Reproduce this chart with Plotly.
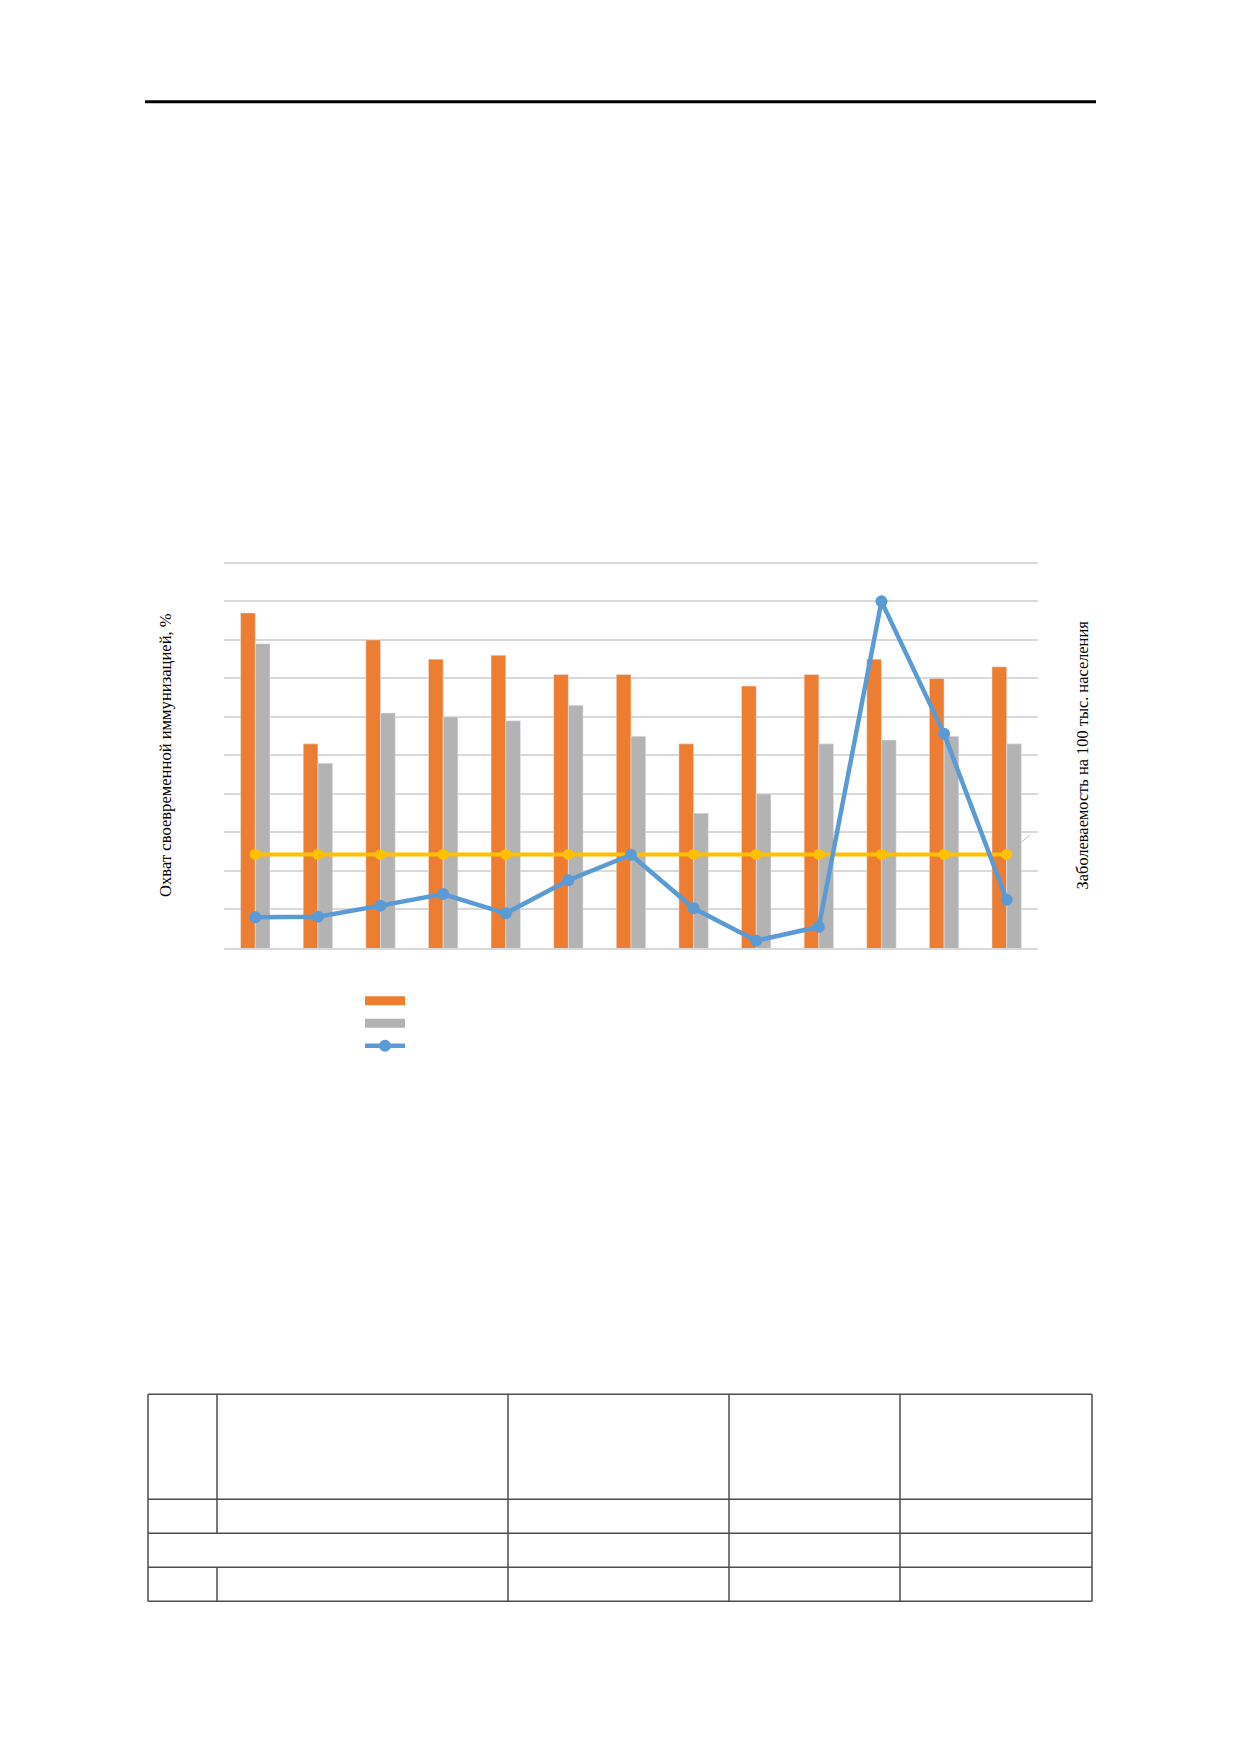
import plotly.graph_objects as go

# 13 groups; the reference has no readable tick labels, so the categories are just numbered
categories = ['1', '2', '3', '4', '5', '6', '7', '8', '9', '10', '11', '12', '13']

# coverage, % (left axis)
coverage_a = [98.7, 95.3, 98.0, 97.5, 97.6, 97.1, 97.1, 95.3, 96.8, 97.1, 97.5, 97.0, 97.3]
coverage_b = [97.9, 94.8, 96.1, 96.0, 95.9, 96.3, 95.5, 93.5, 94.0, 95.3, 95.4, 95.5, 95.3]

# incidence per 100k (right axis)
incidence = [0.80, 0.81, 1.10, 1.40, 0.90, 1.76, 2.42, 1.03, 0.19, 0.55, 9.00, 5.56, 1.25]
threshold = [2.43] * 13

ORANGE = '#ED7D31'
GRAY = '#B3B3B3'
BLUE = '#5B9BD5'
YELLOW = '#FFC000'
GRID = '#D9D9D9'

# the page body adds an 8px margin, so the figure is 8px smaller than the window
W, H = 1232, 1746
# plot area in px; a little headroom above the top gridline so plotly keeps it
PL, PR, PT, PB = 216, 1030, 551.15, 940


def px(x):
    return (x - PL) / (PR - PL)


def py(y):
    return (PB - y) / (PB - PT)


fig = go.Figure()
fig.add_trace(go.Bar(x=categories, y=coverage_a, marker_color=ORANGE, showlegend=False, name='a'))
fig.add_trace(go.Bar(x=categories, y=coverage_b, marker_color=GRAY, showlegend=False, name='b'))

# legend-only entries drawn as flat bars like in the reference
fig.add_trace(go.Scatter(x=[None], y=[None], mode='lines', line=dict(color=ORANGE, width=9), name=''))
fig.add_trace(go.Scatter(x=[None], y=[None], mode='lines', line=dict(color=GRAY, width=9), name=''))

fig.add_trace(go.Scatter(x=categories, y=threshold, yaxis='y2', mode='lines+markers',
                         line=dict(color=YELLOW, width=4), marker=dict(size=11, color=YELLOW),
                         showlegend=False))
fig.add_trace(go.Scatter(x=categories, y=incidence, yaxis='y2', mode='lines+markers',
                         line=dict(color=BLUE, width=4.5), marker=dict(size=12, color=BLUE),
                         name=''))

fig.update_layout(
    width=W, height=H,
    margin=dict(l=PL, r=W - PR, t=PT, b=H - PB),
    paper_bgcolor='white', plot_bgcolor='white',
    barmode='group', bargap=0.53, bargroupgap=0,
    font=dict(family='Liberation Serif', color='black'),
    xaxis=dict(range=[-0.5, 12.5], showticklabels=False, ticks='', showgrid=False, showline=True,
               linecolor=GRID, linewidth=1.5),
    yaxis=dict(range=[90, 100.1], tick0=90, dtick=1, showticklabels=False, ticks='',
               gridcolor=GRID, gridwidth=1.5, zeroline=False),
    yaxis2=dict(range=[0, 10.1], overlaying='y', side='right', showgrid=False,
                showticklabels=False, ticks='', zeroline=False),
    legend=dict(x=px(352), y=py(976.5), xanchor='left', yanchor='top',
                font=dict(size=15), bgcolor='rgba(0,0,0,0)', itemwidth=40),
)

fig.add_annotation(text='Охват своевременной иммунизацией, %', textangle=-90,
                   xref='paper', yref='paper', x=px(157.5), y=py(747.5), xanchor='center',
                   yanchor='middle', showarrow=False,
                   font=dict(size=16.6, family='Liberation Serif'))
fig.add_annotation(text='Заболеваемость на 100 тыс. населения', textangle=-90,
                   xref='paper', yref='paper', x=px(1074), y=py(747.5), xanchor='center',
                   yanchor='middle', showarrow=False,
                   font=dict(size=16.4, family='Liberation Serif'))

# small leftover label leader line near the last group
fig.add_shape(type='line', xref='paper', yref='paper', x0=px(1013.5), x1=px(1022),
              y0=py(834), y1=py(827), line=dict(color='#BFBFBF', width=1))

# page rule at the top
fig.add_shape(type='line', xref='paper', yref='paper', x0=px(137), x1=px(1088),
              y0=py(94), y1=py(94), line=dict(color='black', width=3))

# empty table below the chart (first two cells of the third row are merged)
rows = [1386, 1491, 1525, 1559, 1593]
cols = [140, 209, 500, 721, 892, 1084]
tline = dict(color='#4d4d4d', width=1.5)
for r in rows:
    fig.add_shape(type='line', xref='paper', yref='paper', x0=px(cols[0]), x1=px(cols[-1]),
                  y0=py(r), y1=py(r), line=tline)
for i, c in enumerate(cols):
    if i == 1:
        segs = [(rows[0], rows[2]), (rows[3], rows[4])]
    else:
        segs = [(rows[0], rows[-1])]
    for a, b in segs:
        fig.add_shape(type='line', xref='paper', yref='paper', x0=px(c), x1=px(c),
                      y0=py(a), y1=py(b), line=tline)

fig.write_html('out.html')
